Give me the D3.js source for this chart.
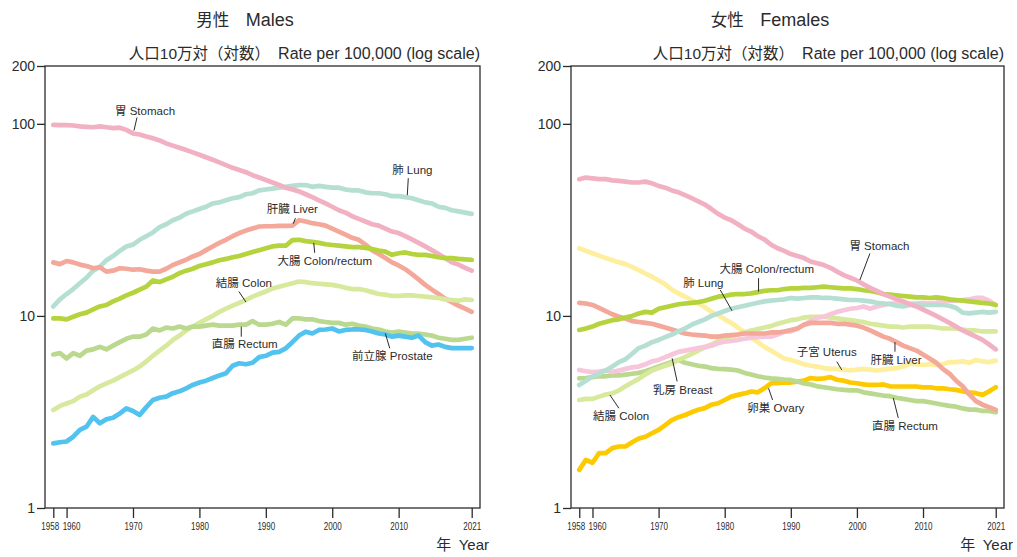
<!DOCTYPE html>
<html>
<head>
<meta charset="utf-8">
<script src="https://cdn.jsdelivr.net/npm/d3@7/dist/d3.min.js"></script>
<style>
  body { margin: 0; background: #fff; }
  svg { font-family: "Liberation Sans", Arial, "Noto Sans CJK JP", sans-serif; }
</style>
</head>
<body>
<svg id="chart" width="1017" height="557"></svg>
<script>
const years = [1958,1959,1960,1961,1962,1963,1964,1965,1966,1967,
  1968,1969,1970,1971,1972,1973,1974,1975,1976,1977,
  1978,1979,1980,1981,1982,1983,1984,1985,1986,1987,
  1988,1989,1990,1991,1992,1993,1994,1995,1996,1997,
  1998,1999,2000,2001,2002,2003,2004,2005,2006,2007,
  2008,2009,2010,2011,2012,2013,2014,2015,2016,2017,
  2018,2019,2020,2021];
const yearTicks = [1958, 1960, 1970, 1980, 1990, 2000, 2010, 2021];
const rateTicks = [1, 10, 100, 200];

// males
const maleStomach = [98.8,98.5,98.5,98.0,97.0,96.5,96.0,97.0,96.0,95.0,
  95.5,93.0,89.0,88.0,86.0,84.0,82.0,79.0,77.0,75.0,
  73.0,71.0,69.0,67.0,65.0,63.0,61.0,59.0,57.5,56.0,
  54.0,52.5,51.0,49.5,48.0,46.5,45.5,44.5,43.0,41.5,
  40.0,38.5,37.0,35.5,34.5,33.0,32.0,31.0,30.0,29.5,
  28.5,27.5,27.0,26.0,25.0,24.0,23.0,22.0,21.0,20.0,
  19.0,18.5,17.8,17.2];
const maleLung = [11.2,12.2,13.0,13.8,14.8,15.8,17.2,18.0,19.5,20.5,
  21.8,23.0,23.5,24.9,26.0,27.2,29.0,30.0,31.5,32.5,
  34.0,35.0,36.0,37.0,38.5,39.0,40.0,41.0,41.5,43.0,
  43.5,45.0,45.5,46.0,46.5,47.0,47.5,48.0,48.0,47.0,
  47.5,47.0,46.5,46.5,45.5,45.0,45.0,44.0,43.5,43.5,
  43.0,42.0,42.0,41.5,41.0,40.0,39.0,38.5,37.0,36.5,
  35.5,35.0,34.5,34.0];
const maleLiver = [19.0,18.6,19.3,19.0,18.5,18.2,17.7,17.9,17.0,17.2,
  17.7,17.6,17.4,17.5,17.2,17.0,17.0,17.6,18.4,19.0,
  19.6,20.4,21.0,22.0,23.0,24.0,24.9,26.0,27.0,27.8,
  28.5,29.2,29.3,29.3,29.4,29.4,29.5,31.5,31.0,30.4,
  30.0,29.5,28.5,27.5,26.5,25.5,24.9,23.5,22.0,21.0,
  20.0,19.0,18.3,17.5,16.5,15.5,14.5,13.7,13.0,12.3,
  11.8,11.3,10.9,10.5];
const maleColorectum = [9.7,9.7,9.6,9.9,10.2,10.4,10.8,11.2,11.4,11.9,
  12.3,12.8,13.2,13.7,14.2,15.3,15.0,15.5,16.0,16.7,
  17.2,17.6,18.2,18.6,19.0,19.5,19.8,20.2,20.5,21.0,
  21.5,22.0,22.5,23.0,23.2,23.2,24.8,24.9,24.5,24.3,
  24.0,23.6,23.4,23.2,23.0,22.8,22.8,22.6,22.3,21.9,
  21.6,20.8,21.2,21.4,21.0,20.8,20.8,20.5,20.2,20.0,
  20.0,19.8,19.7,19.6];
const maleColon = [3.24,3.4,3.5,3.6,3.8,3.9,4.1,4.3,4.45,4.6,
  4.8,5.0,5.2,5.45,5.8,6.2,6.6,7.0,7.5,7.9,
  8.4,8.8,9.2,9.6,10.0,10.5,10.9,11.3,11.7,12.1,
  12.6,13.0,13.4,13.9,14.2,14.5,14.8,15.1,15.0,14.8,
  14.7,14.6,14.5,14.3,14.0,13.8,13.8,13.6,13.3,13.0,
  12.9,12.7,12.7,12.8,12.8,12.7,12.6,12.5,12.4,12.2,
  12.1,12.0,12.2,12.1];
const maleRectum = [6.3,6.4,6.0,6.4,6.2,6.6,6.7,6.9,6.7,7.0,
  7.3,7.6,7.8,7.8,8.0,8.6,8.4,8.7,8.6,8.8,
  8.6,8.8,8.8,8.9,9.0,8.9,8.9,8.9,9.0,9.0,
  9.4,9.0,9.0,9.1,9.3,9.0,9.7,9.7,9.6,9.6,
  9.4,9.3,9.2,9.2,9.0,9.1,8.9,8.8,8.6,8.5,
  8.3,8.2,8.3,8.2,8.1,8.1,8.0,7.9,7.7,7.6,
  7.5,7.5,7.6,7.7];
const maleProstate = [2.17,2.2,2.22,2.35,2.55,2.65,2.98,2.76,2.9,2.95,
  3.1,3.3,3.2,3.05,3.35,3.65,3.75,3.8,3.96,4.05,
  4.2,4.37,4.5,4.6,4.75,4.9,5.03,5.5,5.67,5.6,
  5.7,6.1,6.2,6.44,6.5,6.78,7.3,7.9,8.28,8.1,
  8.45,8.5,8.6,8.3,8.45,8.5,8.5,8.45,8.3,8.1,
  8.0,7.8,7.9,7.8,7.7,7.9,7.3,7.0,7.1,6.9,
  6.8,6.8,6.8,6.8];

// females
const femaleStomach = [51.5,52.5,52.0,51.5,51.5,50.8,50.5,50.0,49.5,49.5,
  50.0,49.0,47.5,46.5,45.0,44.0,42.5,41.0,39.5,38.0,
  36.0,34.0,32.5,31.5,30.0,28.5,27.5,26.0,25.0,23.5,
  22.5,21.8,21.0,20.5,20.0,19.2,18.8,18.4,17.8,17.0,
  16.3,15.8,15.3,14.6,14.0,13.5,13.0,12.6,12.2,11.9,
  11.5,11.2,10.8,10.4,10.0,9.6,9.2,8.8,8.4,8.1,
  7.8,7.5,7.1,6.7];
const femaleLung = [4.37,4.6,4.83,5.0,5.2,5.45,5.75,5.95,6.35,6.8,
  7.0,7.3,7.5,7.75,8.0,8.3,8.6,9.0,9.3,9.6,
  10.0,10.3,10.6,10.9,11.1,11.3,11.5,11.7,11.9,12.0,
  12.1,12.2,12.4,12.3,12.4,12.5,12.5,12.4,12.4,12.3,
  12.2,12.1,12.1,12.0,11.9,11.7,11.6,11.5,11.3,11.2,
  11.4,11.5,11.4,11.4,11.4,11.4,11.3,11.0,10.4,10.3,
  10.4,10.5,10.4,10.5];
const femaleLiver = [11.7,11.6,11.4,11.0,10.6,10.2,9.9,9.7,9.4,9.3,
  9.2,9.1,8.9,8.7,8.5,8.3,8.1,8.0,7.95,7.9,
  7.8,7.8,7.9,7.95,8.0,8.1,8.1,8.1,8.1,8.2,
  8.2,8.3,8.45,8.6,9.0,9.2,9.2,9.2,9.2,9.1,
  9.1,9.0,8.9,8.7,8.4,8.1,7.8,7.6,7.3,7.0,
  6.8,6.6,6.3,6.0,5.7,5.3,5.0,4.6,4.3,3.9,
  3.6,3.45,3.35,3.24];
const femaleColorectum = [8.45,8.6,8.8,9.1,9.3,9.5,9.6,9.8,10.0,10.3,
  10.5,10.4,10.9,11.1,11.3,11.5,11.6,11.7,11.8,12.0,
  12.3,12.6,12.7,12.9,13.0,13.0,13.1,13.3,13.5,13.6,
  13.6,13.8,13.9,13.9,14.0,14.0,14.1,14.2,14.1,14.0,
  13.9,13.9,13.8,13.6,13.5,13.3,13.0,12.9,12.8,12.7,
  12.6,12.5,12.5,12.4,12.5,12.4,12.2,12.1,12.0,11.9,
  11.8,11.7,11.6,11.4];
const femaleBreast = [5.23,5.15,5.1,5.13,5.2,5.1,5.2,5.3,5.4,5.45,
  5.6,5.8,5.9,6.1,6.3,6.5,6.6,6.7,6.8,6.9,
  7.0,7.2,7.35,7.4,7.5,7.6,7.7,7.75,7.8,7.8,
  8.0,8.28,8.3,8.6,9.0,9.4,9.8,9.9,10.2,10.5,
  10.7,10.9,11.0,11.2,10.9,11.2,11.4,11.6,11.6,11.5,
  11.6,11.6,11.7,11.6,11.7,11.9,12.0,12.0,12.1,12.2,
  12.4,12.4,12.0,11.4];
const femaleColon = [3.65,3.7,3.7,3.8,3.9,3.95,4.1,4.3,4.5,4.7,
  4.95,5.2,5.35,5.5,5.65,5.9,6.1,6.35,6.6,6.85,
  7.1,7.4,7.6,7.85,8.0,8.2,8.4,8.55,8.7,8.85,
  9.1,9.3,9.5,9.6,9.8,9.9,9.9,9.9,9.8,9.7,
  9.6,9.5,9.4,9.3,9.1,9.0,8.9,8.8,8.8,8.7,
  8.8,8.8,8.8,8.8,8.7,8.6,8.6,8.6,8.5,8.4,
  8.4,8.3,8.3,8.3];
const femaleRectum = [4.73,4.75,4.8,4.85,4.85,4.9,4.9,4.95,5.0,5.05,
  5.15,5.3,5.45,5.6,5.75,5.9,5.7,5.6,5.5,5.45,
  5.35,5.3,5.28,5.25,5.2,5.05,4.95,4.85,4.78,4.73,
  4.7,4.66,4.64,4.55,4.45,4.4,4.3,4.25,4.2,4.15,
  4.12,4.1,4.1,4.0,3.95,3.9,3.85,3.82,3.75,3.7,
  3.65,3.6,3.6,3.55,3.5,3.45,3.4,3.37,3.3,3.25,
  3.25,3.2,3.2,3.15];
const femaleUterus = [22.5,21.8,21.2,20.6,20.0,19.5,19.0,18.6,18.0,17.3,
  16.6,16.0,15.3,14.6,13.7,13.1,12.6,12.1,11.6,11.1,
  10.5,10.1,9.6,9.2,8.7,8.2,7.7,7.3,6.9,6.6,
  6.3,6.0,5.9,5.75,5.6,5.5,5.45,5.35,5.3,5.3,
  5.25,5.2,5.25,5.3,5.25,5.2,5.25,5.3,5.35,5.45,
  5.65,5.6,5.55,5.6,5.55,5.6,5.75,5.75,5.8,5.7,
  5.9,5.8,5.75,5.85];
const femaleOvary = [1.58,1.78,1.72,1.93,1.93,2.05,2.09,2.09,2.2,2.3,
  2.35,2.45,2.55,2.7,2.87,2.97,3.05,3.15,3.25,3.31,
  3.45,3.51,3.65,3.8,3.88,3.95,4.04,4.0,4.2,4.46,
  4.46,4.5,4.5,4.55,4.6,4.75,4.7,4.73,4.8,4.65,
  4.6,4.5,4.46,4.4,4.37,4.37,4.4,4.3,4.29,4.29,
  4.29,4.29,4.25,4.25,4.2,4.2,4.15,4.12,4.05,4.0,
  3.96,3.88,4.05,4.25];

const colors = {
  stomach: '#f2b1c2', lung: '#b5dfd3', liver: '#f4a89a', colorectum: '#b4d33c',
  colon: '#d7e99c', rectum: '#bad98f', prostate: '#52c2ef', breast: '#f7c6da',
  uterus: '#fdef9e', ovary: '#fdca00'
};

// label placement: anchor year on the series, leader and text offsets in px
const panels = [
  {
    titleJa: '男性', titleEn: 'Males', left: 45, width: 435, titleX: 245,
    series: [
      {key: 'lung', values: maleLung},
      {key: 'stomach', values: maleStomach},
      {key: 'liver', values: maleLiver},
      {key: 'colon', values: maleColon},
      {key: 'rectum', values: maleRectum},
      {key: 'colorectum', values: maleColorectum},
      {key: 'prostate', values: maleProstate}
    ],
    labels: [
      {key: 'stomach', text: '胃 Stomach', year: 1970, leader: [1, -3, 4, -16], at: [12, -22.5]},
      {key: 'lung', text: '肺 Lung', year: 2011, leader: [2, -2, 3, -19], at: [7, -27]},
      {key: 'liver', text: '肝臓 Liver', year: 1994, leader: [3, -7.5, 1, -2], at: [0, -16.5]},
      {key: 'colorectum', text: '大腸 Colon/rectum', year: 1997, leader: [1.4, 1, 2.4, 11], at: [12.5, 19]},
      {key: 'colon', text: '結腸 Colon', year: 1987, leader: [0, 2, -7, -8.5], at: [-2, -16.7]},
      {key: 'rectum', text: '直腸 Rectum', year: 1986, leader: [2, 2, 2, 12], at: [5.5, 19.5]},
      {key: 'prostate', text: '前立腺 Prostate', year: 2008, leader: [0, -1, 4.4, 13.8], at: [7, 21.5]}
    ]
  },
  {
    titleJa: '女性', titleEn: 'Females', left: 571, width: 433, titleX: 770,
    series: [
      {key: 'uterus', values: femaleUterus},
      {key: 'ovary', values: femaleOvary},
      {key: 'rectum', values: femaleRectum},
      {key: 'colon', values: femaleColon},
      {key: 'breast', values: femaleBreast},
      {key: 'liver', values: femaleLiver},
      {key: 'lung', values: femaleLung},
      {key: 'colorectum', values: femaleColorectum},
      {key: 'stomach', values: femaleStomach}
    ],
    labels: [
      {key: 'stomach', text: '胃 Stomach', year: 2000, leader: [3, -0.5, 13, -27], at: [22.5, -34.5]},
      {key: 'colorectum', text: '大腸 Colon/rectum', year: 1985, leader: [0.8, -0.5, 0.8, -14], at: [9, -23]},
      {key: 'lung', text: '肺 Lung', year: 1981, leader: [0.7, 2, -11, -18.7], at: [-28, -25.5]},
      {key: 'breast', text: '乳房 Breast', year: 1972, leader: [0.3, 3.8, 5.3, 27], at: [11, 35.5]},
      {key: 'colon', text: '結腸 Colon', year: 1962, leader: [4.2, 0.5, 13.2, 13.8], at: [15.4, 21.5]},
      {key: 'ovary', text: '卵巣 Ovary', year: 1987, leader: [-2.4, 5, 1.6, 16.7], at: [4.8, 24.4]},
      {key: 'uterus', text: '子宮 Uterus', year: 1998, leader: [-1.9, 0.3, -6.9, -8], at: [-17, -17.4]},
      {key: 'liver', text: '肝臓 Liver', year: 2006, leader: [-1.6, 0, -1.6, 9.5], at: [-0.6, 17.8]},
      {key: 'rectum', text: '直腸 Rectum', year: 2005, leader: [3.3, 1.7, 8.3, 21.7], at: [15, 30]}
    ]
  }
];

const svg = d3.select('#chart');
const plotTop = 66, h = 442;
const ink = '#2b2b2b';
// year labels are drawn narrow; the crowded first two are nudged apart
const squeeze = 0.7;
const tickNudge = {1958: -3.5, 1960: 4.5};

panels.forEach((p) => {
  let x = d3.scaleLinear().domain([1956.75, 2022.25]).range([0, p.width]),
    y = d3.scaleLog().domain([1, 200]).range([h, 0]);

  let title = svg.append('text')
    .attr('x', p.titleX).attr('y', 26)
    .attr('text-anchor', 'middle')
    .attr('fill', ink);
  title.append('tspan').attr('font-size', 16.5).text(p.titleJa + '\u2003');
  title.append('tspan').attr('font-size', 18).text(p.titleEn);

  let g = svg.append('g')
    .attr('transform', 'translate(' + p.left + ',' + plotTop + ')');

  let sub = g.append('text')
    .attr('x', p.width).attr('y', -7)
    .attr('text-anchor', 'end')
    .attr('fill', ink);
  sub.append('tspan').attr('font-size', 15.5).text('人口10万対（対数）');
  sub.append('tspan').attr('font-size', 16).text('\u2002Rate per 100,000 (log scale)');

  let line = d3.line()
    .x((d, i) => x(years[i]))
    .y((d) => y(d));

  g.selectAll('.series')
    .data(p.series)
    .enter()
      .append('path')
      .attr('d', (s) => line(s.values))
      .attr('fill', 'none')
      .attr('stroke', (s) => colors[s.key])
      .attr('stroke-width', 4.7)
      .attr('stroke-linejoin', 'round')
      .attr('stroke-linecap', 'round');

  // frame
  g.append('rect')
    .attr('width', p.width).attr('height', h)
    .attr('fill', 'none')
    .attr('stroke', ink)
    .attr('stroke-width', 1.3);

  let yAxis = d3.axisLeft(y)
    .tickValues(rateTicks)
    .tickFormat(d3.format('d'))
    .tickSize(8)
    .tickPadding(2);
  let ya = g.append('g').call(yAxis);
  ya.select('.domain').remove();
  ya.selectAll('line').attr('stroke', ink).attr('stroke-width', 1.3);
  ya.selectAll('text')
    .attr('font-size', 14)
    .attr('font-family', '"Liberation Sans", Arial, sans-serif')
    .attr('fill', ink);

  let xAxis = d3.axisBottom(x)
    .tickValues(yearTicks)
    .tickFormat(d3.format('d'))
    .tickSize(10)
    .tickPadding(4);
  let xa = g.append('g')
    .attr('transform', 'translate(0,' + h + ')')
    .call(xAxis);
  xa.select('.domain').remove();
  xa.selectAll('line').attr('stroke', ink).attr('stroke-width', 1.3);
  xa.selectAll('text')
    .attr('font-size', 11.5)
    .attr('font-family', '"Liberation Sans", Arial, sans-serif')
    .attr('transform', 'scale(' + squeeze + ',1)')
    .attr('dx', (d) => (tickNudge[d] || 0) / squeeze)
    .attr('fill', ink);

  let yr = g.append('text')
    .attr('x', p.width + 9).attr('y', h + 42)
    .attr('text-anchor', 'end')
    .attr('fill', ink);
  yr.append('tspan').attr('font-size', 15).text('年\u2002');
  yr.append('tspan').attr('font-size', 15).text('Year');

  // series labels with leader lines
  let lbl = g.selectAll('.lbl')
    .data(p.labels)
    .enter()
      .append('g')
      .attr('transform', (l) => {
        let s = p.series.find((d) => d.key === l.key);
        return 'translate(' + x(l.year) + ',' + y(s.values[years.indexOf(l.year)]) + ')';
      });

  lbl.append('line')
    .attr('x1', (l) => l.leader[0]).attr('y1', (l) => l.leader[1])
    .attr('x2', (l) => l.leader[2]).attr('y2', (l) => l.leader[3])
    .attr('stroke', ink)
    .attr('stroke-width', 1);

  lbl.append('text')
    .attr('x', (l) => l.at[0]).attr('y', (l) => l.at[1])
    .attr('text-anchor', 'middle')
    .attr('dominant-baseline', 'central')
    .attr('font-size', 11.5)
    .attr('fill', ink)
    .text((l) => l.text);
});
</script>
</body>
</html>
